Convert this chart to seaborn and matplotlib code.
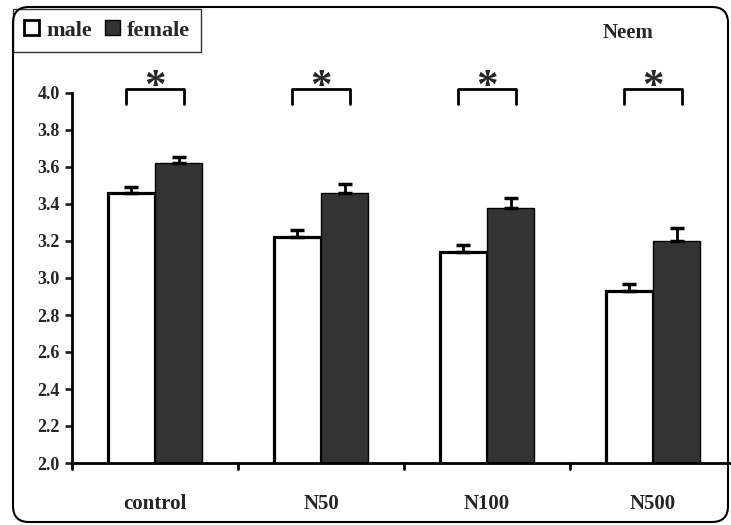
import pandas as pd
import matplotlib
matplotlib.use("Agg")
import matplotlib.pyplot as plt
import matplotlib.transforms as mtransforms
import seaborn as sns
from matplotlib.patches import FancyBboxPatch, Patch

# --------------------------- DATA ---------------------------
groups = ["control", "N50", "N100", "N500"]
male_mean = [3.46, 3.22, 3.14, 2.93]
male_se = [0.03, 0.04, 0.04, 0.035]
female_mean = [3.62, 3.46, 3.38, 3.20]
female_se = [0.035, 0.05, 0.05, 0.07]
y_ticks = [2.0, 2.2, 2.4, 2.6, 2.8, 3.0, 3.2, 3.4, 3.6, 3.8, 4.0]

df = pd.DataFrame({
    "group": groups * 2,
    "sex": ["male"] * 4 + ["female"] * 4,
    "value": male_mean + female_mean,
    "se": male_se + female_se,
})

sns.set_theme(style="white")
plt.rcParams["font.family"] = ["Liberation Serif", "DejaVu Serif"]
plt.rcParams["font.weight"] = "bold"

W, H = 731, 525
fig = plt.figure(figsize=(W / 100, H / 100), dpi=100)
ax = fig.add_axes([72 / W, (H - 463) / H, 664 / W, 370 / H])

sns.barplot(data=df, x="group", y="value", hue="sex", order=groups,
            hue_order=["male", "female"], palette=["white", "#333333"],
            width=0.57, errorbar=None, ax=ax, legend=False)

# style bars and add one-sided error bars
for i, p in enumerate(ax.patches[:8]):
    row = df.iloc[i]
    p.set_edgecolor("black")
    p.set_linewidth(2.3 if row["sex"] == "male" else 1.0)
    xc = p.get_x() + p.get_width() / 2
    ax.errorbar(xc, row["value"], yerr=[[0], [row["se"]]], fmt="none",
                ecolor="black", elinewidth=2, capsize=5, capthick=2.5, zorder=5)

ax.set_ylim(2.0, 4.0)
ax.set_xlim(-0.5, 3.5)
ax.set_yticks(y_ticks)
ax.set_yticklabels([f"{t:.1f}" for t in y_ticks], fontsize=13, fontweight="bold")
ax.set_xticks(range(4))
ax.set_xticklabels(groups, fontsize=15, fontweight="bold")
ax.tick_params(axis="x", length=0, pad=22)
ax.tick_params(axis="y", left=True, length=5, width=2, direction="out", pad=4)
for b in [-0.5, 0.5, 1.5, 2.5]:
    ax.plot([b, b], [2.0, 1.97], color="black", lw=2, clip_on=False)
ax.set_xlabel("")
ax.set_ylabel("")
for s in ["top", "right"]:
    ax.spines[s].set_visible(False)
for s in ["left", "bottom"]:
    ax.spines[s].set_color("black")
    ax.spines[s].set_linewidth(2)
ax.grid(False)

# significance brackets
for i in range(4):
    x0, x1 = i - 0.172, i + 0.172
    ax.plot([x0, x0, x1, x1], [3.94, 4.02, 4.02, 3.94], color="black",
            lw=2, clip_on=False)
    ax.text(i, 3.975, "*", ha="center", va="baseline", fontsize=31,
            fontweight="bold", clip_on=False)

# legend box
handles = [Patch(facecolor="white", edgecolor="black", linewidth=2),
           Patch(facecolor="#333333", edgecolor="black", linewidth=1)]
leg = fig.legend(handles, ["male", "female"], loc="upper left",
                 bbox_to_anchor=(13 / W, 1 - 9 / H), ncol=2, frameon=True,
                 fancybox=False, edgecolor="black", handlelength=0.68,
                 handleheight=0.68, handletextpad=0.3, columnspacing=0.6,
                 borderpad=0.5, borderaxespad=0,
                 prop={"size": 16, "weight": "bold"})
leg.get_frame().set_linewidth(1)

fig.text(628 / W, 1 - 33 / H, "Neem", ha="center", va="center",
         fontsize=15, fontweight="bold")

# rounded border (pixel coordinates)
border = FancyBboxPatch((13, 3), 715, 515,
                        boxstyle="round,pad=0,rounding_size=16",
                        transform=mtransforms.IdentityTransform(),
                        facecolor="none", edgecolor="black", linewidth=1.5,
                        zorder=10)
fig.patches.append(border)

plt.savefig("out.png", dpi=100)
